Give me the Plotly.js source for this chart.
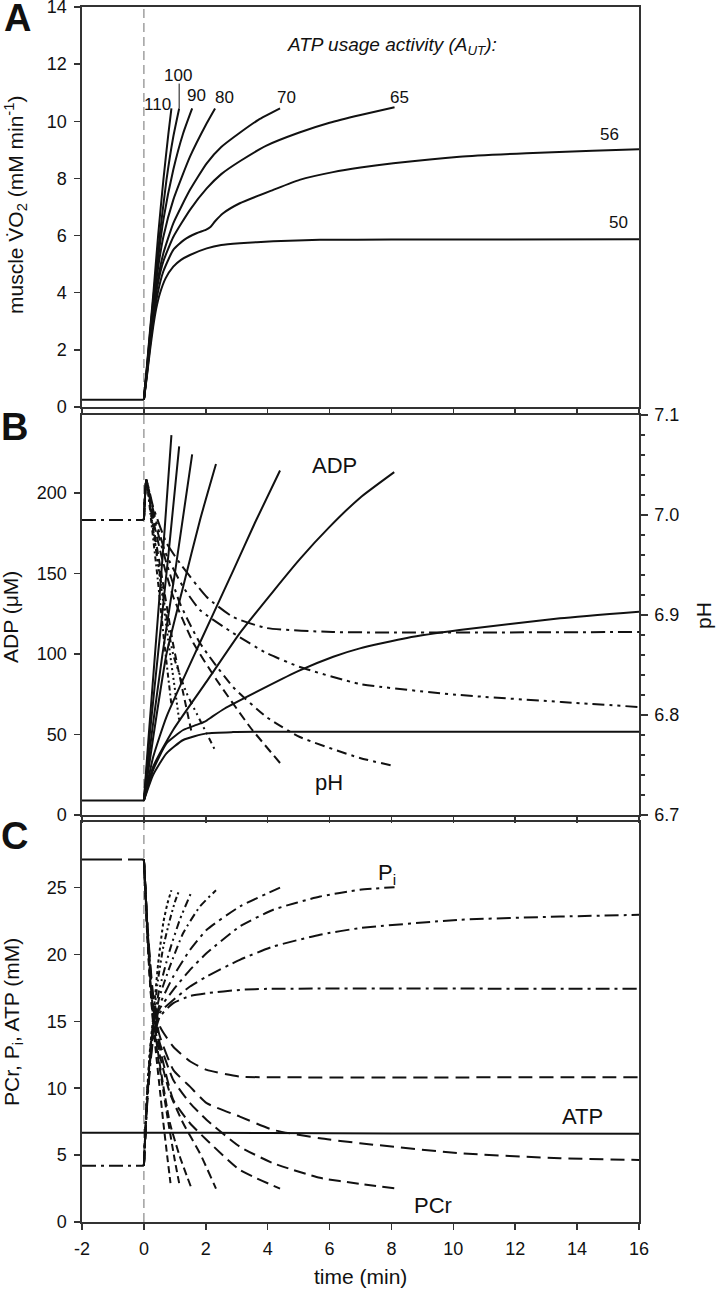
<!DOCTYPE html>
<html><head><meta charset="utf-8">
<script src="https://cdn.plot.ly/plotly-3.0.1.min.js"></script>
<style>html,body{margin:0;padding:0;background:#fff}#chart{width:720px;height:1290px}</style>
</head><body><div id="chart"></div>
<script>
// ---------- Panel A: muscle VO2 (mM/min) ----------
const vo2BaseT = [-2, 0];
const vo2Base = [0.25, 0.25];
const vo2T_110 = [0,0.1,0.2,0.3,0.46,0.63,0.79,0.89];
const vo2_110  = [0.25,1.45,2.7,3.9,6.0,7.95,9.55,10.45];
const vo2T_100 = [0,0.1,0.2,0.3,0.52,0.73,0.95,1.14];
const vo2_100  = [0.25,1.4,2.6,3.75,6.08,7.95,9.46,10.45];
const vo2T_90  = [0,0.1,0.2,0.3,0.45,0.63,0.95,1.27,1.56];
const vo2_90   = [0.25,1.35,2.5,3.6,5.1,6.55,8.3,9.58,10.45];
const vo2T_80  = [0,0.1,0.2,0.3,0.45,0.63,0.95,1.49,2.03,2.3];
const vo2_80   = [0.25,1.3,2.4,3.45,4.8,5.96,7.25,8.76,9.93,10.45];
const vo2T_70  = [0,0.1,0.2,0.3,0.45,0.63,0.95,1.49,2.03,2.5,3.1,3.7,4.4];
const vo2_70   = [0.25,1.25,2.3,3.3,4.45,5.38,6.43,7.6,8.53,9.1,9.6,10.05,10.45];
const vo2T_65  = [0,0.1,0.2,0.3,0.45,0.63,0.95,1.49,2.03,2.5,3.1,3.96,5.0,6.0,7.0,8.1];
const vo2_65   = [0.25,1.2,2.25,3.2,4.3,5.1,5.95,6.9,7.65,8.15,8.6,9.15,9.6,9.95,10.22,10.49];
const vo2T_56  = [0,0.1,0.2,0.3,0.45,0.63,0.95,1.3,1.7,2.0,2.15,2.3,2.56,3.1,4.18,5.03,6.11,7.0,8.06,10.2,12.36,14.5,16];
const vo2_56   = [0.25,1.15,2.15,3.0,4.0,4.75,5.5,5.85,6.08,6.2,6.3,6.5,6.78,7.13,7.6,7.95,8.22,8.38,8.53,8.76,8.88,8.97,9.02];
const vo2T_50  = [0,0.1,0.2,0.3,0.4,0.52,0.7,0.95,1.2,1.49,2.03,2.5,3.1,4.18,5.69,8,16];
const vo2_50   = [0.25,1.1,2.0,2.8,3.45,3.98,4.5,4.91,5.15,5.32,5.55,5.67,5.73,5.8,5.85,5.86,5.87];
const autLabels = ['110','100','90','80','70','65','56','50'];
const autLabelT = [0.44,1.11,1.70,2.59,4.6,8.27,15.06,15.34];
const autLabelV = [10.57,11.62,10.89,10.85,10.85,10.85,9.52,6.44];

// ---------- Panel B: ADP (uM) ----------
const adpBaseT = [-2, 0];
const adpBase = [9, 9];
const adpT_110 = [0,0.15,0.4,0.65,0.89];
const adp_110  = [9,48,110,172,236];
const adpT_100 = [0,0.2,0.5,0.8,1.14];
const adp_100  = [9,52,108,163,229];
const adpT_90  = [0,0.25,0.6,1.0,1.56];
const adp_90   = [9,50,100,150,224];
const adpT_80  = [0,0.3,0.73,1.27,1.81,2.33];
const adp_80   = [9,48,100,142,183,218];
const adpT_70  = [0,0.3,0.73,1.81,2.89,3.6,4.4];
const adp_70   = [9,36,61,107,152,182,214];
const adpT_65  = [0,0.3,0.95,2.03,3.1,4.18,5.04,6.0,6.98,8.09];
const adp_65   = [9,30,53,83,113,139,159,179,197,213];
const adpT_56  = [0,0.3,0.73,1.27,1.7,1.97,2.2,2.6,3.97,5.0,6.12,6.98,8.5,10.2,13.45,16];
const adp_56   = [9,28,44.5,52.8,56,58,61,66,79.7,89.5,98.3,103.5,110,114.9,122.2,126.3];
const adpT_50  = [0,0.3,0.73,1.27,2.02,2.88,4,16];
const adp_50   = [9,25,38.3,46.6,50.7,51.5,51.7,51.7];

// ---------- Panel B: pH ----------
const phBaseT = [-2, 0];
const phBase = [6.995, 6.995];
const phT_110 = [0,0.08,0.25,0.45,0.65,0.89];
const ph_110  = [6.995,7.035,6.99,6.935,6.875,6.81];
const phT_100 = [0,0.08,0.3,0.55,0.85,1.14];
const ph_100  = [6.995,7.035,6.985,6.93,6.86,6.795];
const phT_90  = [0,0.08,0.3,0.6,0.95,1.25,1.56];
const ph_90   = [6.995,7.035,6.99,6.935,6.87,6.825,6.78];
const phT_80  = [0,0.08,0.3,0.52,0.95,1.38,1.81,2.33];
const ph_80   = [6.995,7.035,6.985,6.94,6.86,6.822,6.795,6.763];
const phT_70  = [0,0.08,0.3,0.6,0.95,1.6,2.35,3.43,4.4];
const ph_70   = [6.995,7.035,6.995,6.955,6.918,6.872,6.835,6.788,6.752];
const phT_65  = [0,0.08,0.3,0.7,1.16,1.81,2.88,3.96,5.04,6.98,8.09];
const ph_65   = [6.995,7.035,7.0,6.955,6.912,6.872,6.828,6.798,6.778,6.757,6.749];
const phT_56  = [0,0.08,0.3,0.7,1.27,1.81,2.88,3.96,5.04,6.98,10.2,13.5,16];
const ph_56   = [6.995,7.035,7.005,6.962,6.928,6.905,6.882,6.862,6.848,6.831,6.82,6.813,6.808];
const phT_50  = [0,0.08,0.3,0.73,1.16,2.03,2.88,3.96,6.1,16];
const ph_50   = [6.995,7.035,7.008,6.972,6.952,6.918,6.898,6.887,6.883,6.883];

// ---------- Panel C: PCr, Pi, ATP (mM) ----------
const atpT = [-2,0,4,8,16];
const atp  = [6.68,6.68,6.65,6.62,6.6];
const pcrBaseT = [-2, 0];
const pcrBase = [27.1, 27.1];
const piBaseT = [-2, 0];
const piBase = [4.2, 4.2];
const pcrT_110 = [0,0.05,0.1,0.2,0.3,0.41,0.52,0.63,0.75,0.86];
const pcr_110  = [27.1,24.5,21.8,17.8,14.8,12.2,9.8,7.4,5.0,2.9];
const pcrT_100 = [0,0.05,0.1,0.2,0.3,0.45,0.6,0.8,1.0,1.14];
const pcr_100  = [27.1,24.6,22.0,18.0,15.0,12.4,10.2,7.3,4.6,2.9];
const pcrT_90  = [0,0.05,0.1,0.2,0.3,0.5,0.84,1.16,1.54];
const pcr_90   = [27.1,24.7,22.2,18.3,15.3,12.0,7.4,4.9,2.5];
const pcrT_80  = [0,0.05,0.1,0.2,0.3,0.5,0.84,1.27,1.81,2.33];
const pcr_80   = [27.1,24.8,22.4,18.6,15.6,12.6,9.63,7.38,5.14,2.5];
const pcrT_70  = [0,0.05,0.1,0.2,0.3,0.5,0.95,1.49,2.03,3.1,4.4];
const pcr_70   = [27.1,24.8,22.5,18.8,16.0,13.2,9.12,7.38,6.13,3.89,2.5];
const pcrT_65  = [0,0.05,0.1,0.2,0.3,0.5,0.95,1.49,2.03,3.1,4.18,5.69,6.98,8.1];
const pcr_65   = [27.1,24.9,22.6,19.0,16.3,13.5,10.62,8.88,7.63,5.63,4.39,3.3,2.85,2.52];
const pcrT_56  = [0,0.05,0.1,0.2,0.3,0.5,0.95,1.49,2.03,3.1,4.18,5.69,6.98,10.2,13.45,16];
const pcr_56   = [27.1,24.9,22.7,19.2,16.6,14.0,11.37,10.12,8.88,7.88,6.88,6.26,5.89,5.14,4.76,4.64];
const pcrT_50  = [0,0.05,0.1,0.2,0.3,0.52,0.95,1.5,2.03,3.1,4,16];
const pcr_50   = [27.1,25.0,22.8,19.5,17.0,14.6,13.1,12.0,11.37,10.87,10.82,10.82];
const piT_110 = [0,0.05,0.1,0.2,0.3,0.46,0.63,0.76,0.89];
const pi_110  = [4.2,7.0,9.5,13.0,15.3,19.3,22.4,23.8,24.8];
const piT_100 = [0,0.05,0.1,0.2,0.3,0.45,0.63,0.84,1.0,1.14];
const pi_100  = [4.2,6.9,9.3,12.8,15.0,18.0,20.6,22.6,23.9,24.8];
const piT_90  = [0,0.05,0.1,0.2,0.3,0.5,0.84,1.16,1.56];
const pi_90   = [4.2,6.8,9.2,12.6,14.8,17.4,20.34,22.59,24.8];
const piT_80  = [0,0.05,0.1,0.2,0.3,0.5,0.84,1.27,1.81,2.33];
const pi_80   = [4.2,6.8,9.1,12.4,14.6,16.8,19.1,21.6,23.58,24.8];
const piT_70  = [0,0.05,0.1,0.2,0.3,0.5,0.95,1.49,2.03,3.1,4.4];
const pi_70   = [4.2,6.7,9.0,12.2,14.4,16.2,18.35,20.34,21.84,23.58,25.0];
const piT_65  = [0,0.05,0.1,0.2,0.3,0.5,0.95,1.49,2.03,3.1,4.18,5.69,6.98,8.1];
const pi_65   = [4.2,6.7,8.9,12.0,14.2,15.9,17.35,18.85,20.1,22.09,23.34,24.33,24.83,25.03];
const piT_56  = [0,0.05,0.1,0.2,0.3,0.5,0.95,1.49,2.03,3.1,4.18,5.69,6.98,10.2,13.45,16];
const pi_56   = [4.2,6.6,8.8,11.8,13.9,15.6,16.6,17.6,18.35,19.6,20.59,21.47,21.97,22.59,22.83,22.96];
const piT_50  = [0,0.05,0.1,0.2,0.3,0.52,0.95,1.5,2.03,3.1,4,16];
const pi_50   = [4.2,6.5,8.6,11.6,13.6,15.36,16.36,16.9,17.1,17.35,17.43,17.43];

const xTicks = [-2,0,2,4,6,8,10,12,14,16];
const xTickText = ['-2','0','2','4','6','8','10','12','14','16'];
const vo2Ticks = [0,2,4,6,8,10,12,14];
const adpTicks = [0,50,100,150,200];
const pcrTicks = [0,5,10,15,20,25];
const phTicks = [6.7,6.8,6.9,7.0,7.1];
const phTickText = ['6.7','6.8','6.9','7.0','7.1'];

// ---------- build ----------
const FONT = 'Arial, "Liberation Sans", sans-serif';
const NARROW = '"Liberation Sans Narrow", "Arial Narrow", Arial, "Liberation Sans", sans-serif';
const INK = '#111';
function tr(x, y, xa, ya, dash, w) {
  return {x: x, y: y, xaxis: xa, yaxis: ya, type: 'scatter', mode: 'lines',
    line: {color: INK, width: w || 2, dash: dash || 'solid', shape: 'spline', smoothing: 0.5},
    hoverinfo: 'skip', showlegend: false};
}
const traces = [];
// A
traces.push(tr(vo2BaseT, vo2Base, 'x', 'y'));
[[vo2T_110,vo2_110],[vo2T_100,vo2_100],[vo2T_90,vo2_90],[vo2T_80,vo2_80],[vo2T_70,vo2_70],[vo2T_65,vo2_65],[vo2T_56,vo2_56],[vo2T_50,vo2_50]]
  .forEach(p => traces.push(tr(p[0], p[1], 'x', 'y')));
// B ADP
traces.push(tr(adpBaseT, adpBase, 'x2', 'y2'));
[[adpT_110,adp_110],[adpT_100,adp_100],[adpT_90,adp_90],[adpT_80,adp_80],[adpT_70,adp_70],[adpT_65,adp_65],[adpT_56,adp_56],[adpT_50,adp_50]]
  .forEach(p => traces.push(tr(p[0], p[1], 'x2', 'y2')));
// B pH
const phDash = ['5px,3px,2px,3px','2px,3px','7px,5px','6px,4px,2px,4px,2px,4px','9px,5px','10px,5px,3px,5px','12px,5px,3px,5px,3px,5px','14px,5px,3px,5px'];
traces.push(tr(phBaseT, phBase, 'x2', 'y4', '14px,5px,3px,5px'));
[[phT_110,ph_110],[phT_100,ph_100],[phT_90,ph_90],[phT_80,ph_80],[phT_70,ph_70],[phT_65,ph_65],[phT_56,ph_56],[phT_50,ph_50]]
  .forEach((p,i) => traces.push(tr(p[0], p[1], 'x2', 'y4', phDash[i])));
// C
traces.push(tr(atpT, atp, 'x3', 'y3'));
traces.push(tr(pcrBaseT, pcrBase, 'x3', 'y3', '40px,6px'));
traces.push(tr(piBaseT, piBase, 'x3', 'y3', '14px,5px,3px,5px'));
const pcrDash = ['7px,4px','7px,4px','8px,4px','9px,5px','12px,6px','12px,6px','14px,7px','14px,7px'];
[[pcrT_110,pcr_110],[pcrT_100,pcr_100],[pcrT_90,pcr_90],[pcrT_80,pcr_80],[pcrT_70,pcr_70],[pcrT_65,pcr_65],[pcrT_56,pcr_56],[pcrT_50,pcr_50]]
  .forEach((p,i) => traces.push(tr(p[0], p[1], 'x3', 'y3', pcrDash[i])));
const piDash = ['3px,3px','6px,3px,2px,3px,2px,3px','8px,4px,2px,4px,2px,4px','8px,4px,2px,4px','12px,5px,3px,5px','12px,5px,3px,5px','14px,5px,3px,5px','14px,5px,3px,5px'];
[[piT_110,pi_110],[piT_100,pi_100],[piT_90,pi_90],[piT_80,pi_80],[piT_70,pi_70],[piT_65,pi_65],[piT_56,pi_56],[piT_50,pi_50]]
  .forEach((p,i) => traces.push(tr(p[0], p[1], 'x3', 'y3', piDash[i])));

const AX = '#333';
const TICKFONT = {family: FONT, size: 18, color: INK};
function xax(anchor, labels) {
  return {domain: [0,1], range: [-2,16], anchor: anchor, tickvals: xTicks, ticktext: xTickText,
    showticklabels: labels, ticks: 'outside', ticklen: 6, tickwidth: 1.5, tickcolor: AX,
    showline: true, mirror: true, linecolor: AX, linewidth: 1.6, showgrid: false, zeroline: false,
    tickfont: TICKFONT, ticklabelstandoff: 4};
}
function yax(dom, range, vals, anchor) {
  return {domain: dom, range: range, tickvals: vals, anchor: anchor, ticks: 'outside', ticklen: 6,
    tickwidth: 1.5, tickcolor: AX, showline: true, mirror: true, linecolor: AX, linewidth: 1.6,
    showgrid: false, zeroline: false, tickfont: TICKFONT, ticklabeloverflow: 'allow', ticklabelstandoff: 4};
}

function ann(text, x, y, xref, yref, size, extra) {
  return Object.assign({text: text, x: x, y: y, xref: xref, yref: yref, showarrow: false,
    xanchor: 'center', yanchor: 'middle', font: {family: FONT, size: size, color: INK}}, extra || {});
}
const px = X => (X - 82) / 557;
const py = Y => (1222 - Y) / 1215;
const annotations = [
  ann('<b>A</b>', px(17), py(18), 'paper', 'paper', 38),
  ann('<b>B</b>', px(14), py(427), 'paper', 'paper', 38),
  ann('<b>C</b>', px(14), py(836), 'paper', 'paper', 38),
  ann('muscle V̇O<sub>2</sub> (mM min<sup>-1</sup>)', px(15), py(205), 'paper', 'paper', 21, {textangle: -90}),
  ann('ADP (μM)', px(11), py(617), 'paper', 'paper', 21, {textangle: -90}),
  ann('PCr, P<sub>i</sub>, ATP (mM)', px(13), py(1022), 'paper', 'paper', 21, {textangle: -90}),
  ann('pH', px(703), py(615), 'paper', 'paper', 21, {textangle: -90}),
  ann('time (min)', px(360), py(1277), 'paper', 'paper', 21),
  ann('<i>ATP usage activity (A<sub>UT</sub>):</i>', px(392), py(46), 'paper', 'paper', 19),
  ann('ADP', 6.17, 217.4, 'x2', 'y2', 22),
  ann('pH', 5.98, 19.9, 'x2', 'y2', 22),
  ann('P<sub>i</sub>', 7.85, 26.0, 'x3', 'y3', 22),
  ann('ATP', 14.16, 7.85, 'x3', 'y3', 22),
  ann('PCr', 9.34, 1.27, 'x3', 'y3', 22)
];
autLabels.forEach((s,i) => annotations.push(
  Object.assign(ann(s, autLabelT[i], autLabelV[i], 'x', 'y', 17), {font: {family: NARROW, size: 17, color: INK}})));

const layout = {
  width: 720, height: 1290, paper_bgcolor: '#fff', plot_bgcolor: '#fff',
  margin: {l: 82, r: 81, t: 7, b: 68},
  showlegend: false,
  xaxis: xax('y', false),
  xaxis2: xax('y2', false),
  xaxis3: xax('y3', true),
  yaxis: yax([0.6708, 1], [0, 14], vo2Ticks, 'x'),
  yaxis2: yax([0.33498, 0.6642], [0, 248.5], adpTicks, 'x2'),
  yaxis3: yax([0, 0.32922], [0, 29.9], pcrTicks, 'x3'),
  yaxis4: {overlaying: 'y2', side: 'right', anchor: 'x2', range: [6.7, 7.1], tickvals: phTicks, ticktext: phTickText,
    ticks: 'outside', ticklen: 7, tickwidth: 1.5, tickcolor: AX, showline: true, linecolor: AX, linewidth: 1.6,
    showgrid: false, zeroline: false, tickfont: TICKFONT, ticklabeloverflow: 'allow', ticklabelstandoff: 3,
    minor: {dtick: 0.02, ticks: 'outside', ticklen: 4, tickwidth: 1.2, tickcolor: AX, showgrid: false}},
  shapes: [
    {type: 'line', xref: 'x3', yref: 'paper', x0: 0, x1: 0, y0: 0, y1: 1, layer: 'below',
     line: {color: '#888', width: 1.2, dash: '9px,5px'}},
    {type: 'line', xref: 'x', yref: 'y', x0: 1.14, x1: 1.14, y0: 10.45, y1: 11.32,
     line: {color: INK, width: 1}}
  ],
  annotations: annotations
};
Plotly.newPlot('chart', traces, layout, {staticPlot: true, displayModeBar: false});
</script></body></html>
